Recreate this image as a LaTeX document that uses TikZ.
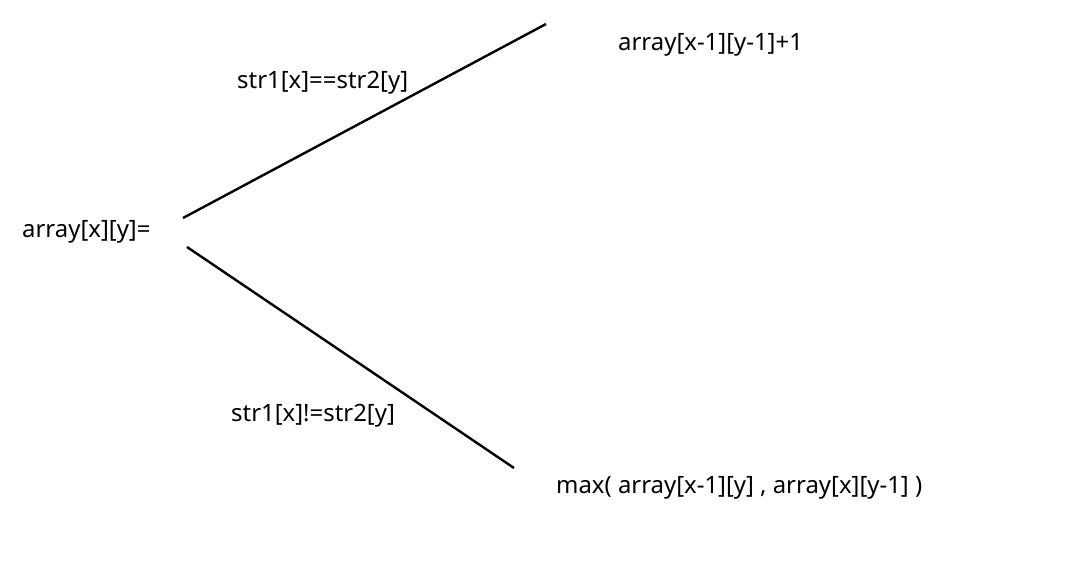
\documentclass[tikz,border=0pt]{standalone}
\usepackage{fontspec}
\setmainfont{Noto Sans}
\begin{document}
\begin{tikzpicture}[x=1bp,y=-1bp,
  lbl/.style={anchor=base west,inner sep=0pt,font=\fontsize{24}{28}\selectfont},
  branch/.style={line width=2.4bp,black}]
\useasboundingbox (0,0) rectangle (1085,576);
\node[lbl] (root) at (22,238) {array[x][y]=};
\node[lbl] (eq) at (237,89) {str1[x]==str2[y]};
\node[lbl] (res1) at (618,51) {array[x-1][y-1]+1};
\node[lbl] (neq) at (231,421) {str1[x]!=str2[y]};
\node[lbl] (res2) at (556,493) {max( array[x-1][y] , array[x][y-1] )};
\coordinate (a1) at (183,218);
\coordinate (b1) at (546,24);
\coordinate (a2) at (187,247);
\coordinate (b2) at (514,468);
\draw[branch] (a1) -- (b1);
\draw[branch] (a2) -- (b2);
\end{tikzpicture}
\end{document}
